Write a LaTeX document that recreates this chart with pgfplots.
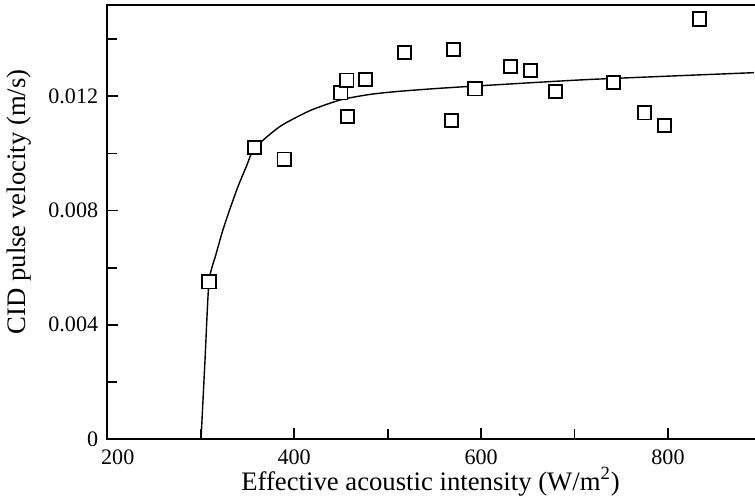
\documentclass[border=0pt]{standalone}
\usepackage{fontspec}
\setmainfont{Liberation Serif}
\usepackage{pgfplots}
\pgfplotsset{compat=1.18}

\begin{document}
\begin{tikzpicture}
\begin{axis}[
    scale only axis,
    width=322pt, height=216pt,
    xmin=200, xmax=892,
    ymin=0, ymax=0.0152,
    scaled y ticks=false,
    axis line style={draw=none},
    clip=false,
    tick align=inside,
    xtick pos=bottom, ytick pos=left,
    xtick={200,400,600,800},
    minor xtick={300,500,700},
    ytick={0,0.004,0.008,0.012},
    minor ytick={0.002,0.006,0.010,0.014},
    yticklabels={0,0.004,0.008,0.012},
    xticklabels={\rlap{\kern-3pt 200},400,600,800},
    major tick length=5.5pt,
    minor tick length=5pt,
    every tick/.style={black, line width=0.9pt},
    tick label style={font=\fontsize{11}{13}\selectfont},
    xticklabel style={yshift=-2pt},
    yticklabel style={xshift=-1pt},
    label style={font=\fontsize{13.3}{15}\selectfont},
    xlabel={Effective acoustic intensity (W/m\textsuperscript{2})},
    ylabel={CID pulse velocity (m/s)},
    xlabel style={at={(axis description cs:0.5,0)}, anchor=base, yshift=-25.5pt},
    ylabel style={at={(axis description cs:0,0.5)}, anchor=center, yshift=44pt, xshift=10pt},
    /pgf/number format/assume math mode=true,
]
% fitted curve
\addplot[black, line width=0.7pt, smooth, tension=0.4] coordinates {
    (300.4,0) (304.6,0.00274) (308.9,0.00550) (316.4,0.00647)
    (323.6,0.00730) (330.7,0.00800) (339.8,0.00883) (348.7,0.00953)
    (357.7,0.01018) (384.6,0.01094) (416.9,0.01150) (450,0.01188)
    (481.5,0.01207) (510,0.01217) (550,0.01227) (593.5,0.01236)
    (715,0.01259) (892,0.01283)
};
% measured points
\addplot[only marks, mark=square*, mark size=3.3pt,
    mark options={fill=white, draw=black, line width=0.9pt}] coordinates {
    (308.9,0.00550) (357.7,0.01020) (389.3,0.00980) (450.0,0.01212)
    (456.4,0.01257) (457.2,0.01130) (476.6,0.01259) (517.8,0.01353)
    (570.3,0.01365) (568.4,0.01115) (593.5,0.01226) (631.7,0.01305)
    (652.8,0.01290) (679.4,0.01217) (741.8,0.01248) (774.9,0.01142)
    (796.4,0.01098) (833.4,0.01471)
};
\draw[line width=1pt, line cap=rect] (rel axis cs:1,1) -- (rel axis cs:0,1)
    -- (rel axis cs:0,0) -- (rel axis cs:1,0);
\end{axis}
\path (current axis.north east) ++(0,2.5pt);
\end{tikzpicture}
\end{document}
